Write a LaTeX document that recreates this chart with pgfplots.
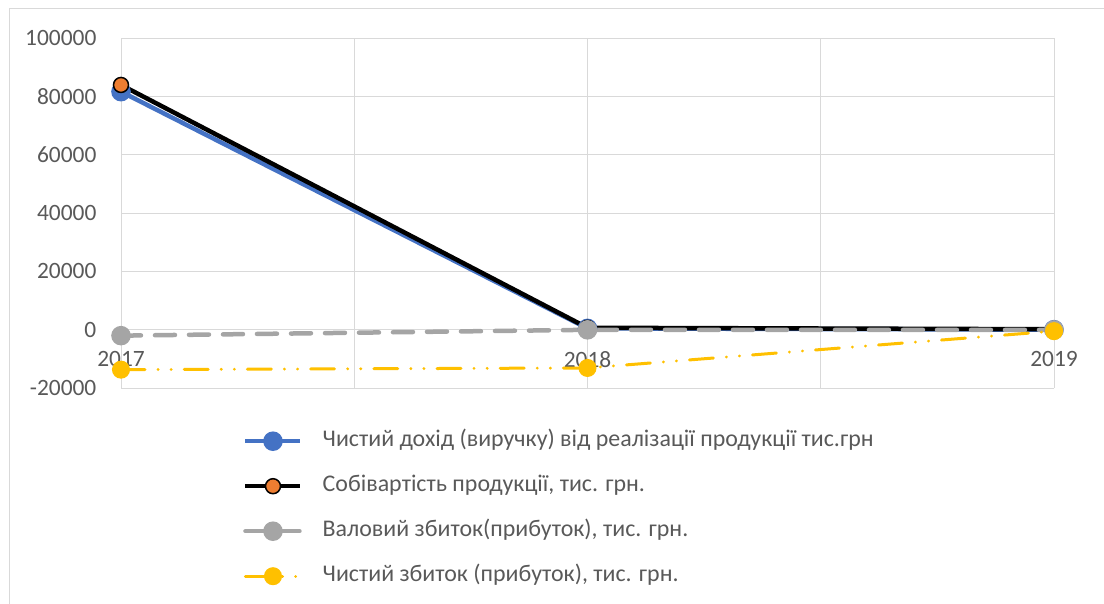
\documentclass[border=0pt]{standalone}
\usepackage{pgfplots}
\pgfplotsset{compat=1.18}
\usepackage{fontspec}
\setmainfont{Carlito}
\definecolor{cblue}{HTML}{4472C4}
\definecolor{corange}{HTML}{ED7D31}
\definecolor{cgrey}{HTML}{A5A5A5}
\definecolor{cyellow}{HTML}{FFC000}
\definecolor{gridc}{HTML}{D9D9D9}
\definecolor{txt}{HTML}{595959}
\begin{document}
\begin{tikzpicture}
\path[use as bounding box] (0bp,0bp) rectangle (1104bp,-604bp);
\draw[gridc, line width=1bp] (9bp,-620bp) -- (9bp,-8bp) -- (1120bp,-8bp);
\begin{axis}[
  at={(121bp,-388bp)}, anchor=south west,
  scale only axis, width=933bp, height=350bp,
  xmin=0, xmax=2, ymin=-20000, ymax=100000,
  xtick={0,1,2}, xticklabels={2017,2018,2019},
  minor xtick={0.5,1.5},
  ytick={-20000,0,20000,40000,60000,80000,100000},
  grid=both,
  major grid style={draw=gridc, line width=1bp},
  minor grid style={draw=gridc, line width=1bp},
  axis x line=middle, axis y line=left,
  hide obscured x ticks=false,
  axis line style={draw=none},
  major tick style={draw=none}, minor tick style={draw=none},
  scaled y ticks=false,
  /pgf/number format/assume math mode=true,
  /pgf/number format/fixed, /pgf/number format/1000 sep={},
  tick label style={font=\fontsize{23.5}{27}\selectfont, text=txt},
  yticklabel style={xshift=-19bp},
  xticklabel style={yshift=-16bp},
  clip=false,
  legend cell align=left,
  legend style={at={(0.1308,-0.12)}, anchor=north west, draw=none, fill=none,
    inner sep=0pt, font=\fontsize{24}{28}\selectfont, text=txt,
    row sep=23bp,
    nodes={inner sep=0pt, text height=16bp, text depth=6bp},
    /tikz/every odd column/.append style={column sep=20bp}},
  legend image code/.code={
    \draw[mark repeat=2,mark phase=2,#1] plot coordinates {(0bp,0bp) (27.5bp,0bp) (55bp,0bp)};
  },
]
\addplot[cblue, line width=4.5bp, mark=*, mark size=7.5bp, mark options={solid, fill=cblue, draw=cblue}]
  coordinates {(0,81600) (1,450) (2,0)};
\addlegendentry{Чистий дохід (виручку) від реалізації продукції тис.грн}
\addplot[black, line width=4.5bp, mark=*, mark size=7.5bp, mark options={solid, fill=corange, draw=black, line width=1.5bp}]
  coordinates {(0,83900) (1,650) (2,150)};
\addlegendentry{Собівартість продукції, тис. грн.}
\addplot[cgrey, line width=4.5bp, line cap=round, dash pattern=on 20bp off 14bp, mark=*, mark size=7.5bp, mark options={solid, fill=cgrey, draw=cgrey}]
  coordinates {(0,-2050) (1,-50) (2,-100)};
\addlegendentry{Валовий збиток(прибуток), тис. грн.}
\addplot[cyellow, line width=3bp, line cap=round, dash pattern=on 24bp off 13bp on 0.1bp off 13bp on 0.1bp off 13bp, mark=*, mark size=7.5bp, mark options={solid, fill=cyellow, draw=cyellow}]
  coordinates {(0,-13700) (1,-13130) (2,-500)};
\addlegendentry{Чистий збиток (прибуток), тис. грн.}
\end{axis}
\end{tikzpicture}
\end{document}
